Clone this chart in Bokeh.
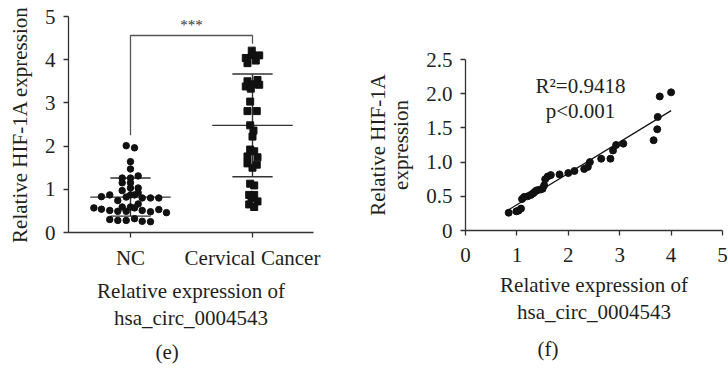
import numpy as np
from bokeh.plotting import figure
from bokeh.layouts import row
from bokeh.models import FixedTicker, Label, Title
from bokeh.embed import file_html
from bokeh.resources import INLINE

# ---------------- data: panel (e) ----------------
categories = ["NC", "Cervical Cancer"]
nc_values = [2.01, 1.96, 1.64, 1.47, 1.26, 1.26, 1.31, 1.15, 1.15, 0.97, 1.03, 1.03,
             0.83, 0.87, 0.74, 0.82, 0.87, 0.87, 0.92, 0.80, 0.80, 0.80,
             0.57, 0.54, 0.51, 0.49, 0.59, 0.49, 0.59, 0.57, 0.66, 0.51, 0.48, 0.53, 0.46,
             0.30, 0.28, 0.28, 0.32, 0.26, 0.25]
nc_jitter = [-0.035, 0.033, 0, 0, -0.068, 0, 0.063, -0.068, 0, -0.068, 0, 0.063,
             -0.238, -0.17, -0.104, -0.035, 0, 0.033, 0.063, 0.096, 0.164, 0.232,
             -0.30, -0.238, -0.17, -0.104, -0.068, -0.035, 0, 0.033, 0.063, 0.096, 0.164, 0.232, 0.295,
             -0.17, -0.104, -0.035, 0.033, 0.096, 0.164]
cc_values = [4.21, 4.04, 4.10, 4.10, 3.92, 3.98, 3.50, 3.53, 3.38, 3.43, 3.42, 3.33,
             3.03, 2.81, 2.81, 2.48, 2.36, 2.22, 1.92, 1.88, 1.76, 1.74, 1.60, 1.57,
             1.50, 1.13, 1.09, 0.87, 0.87, 0.80, 0.72, 0.65, 0.59]
cc_jitter = [-0.006, -0.055, 0, 0.055, -0.041, 0.027, -0.041, 0.041, -0.055, 0, 0.055, -0.014,
             -0.019, -0.041, 0.035, -0.019, 0.008, 0, -0.019, 0.014, -0.041, 0.041, -0.041, 0.035,
             0, -0.019, 0.014, -0.027, 0.014, -0.008, 0.041, -0.027, 0.014]
group_means = [0.82, 2.48]
group_sds = [0.44, 1.19]
bracket_top = 4.56
bracket_leg_ends = [2.25, 4.37]
sig_text = "***"
e_yticks = [0, 1, 2, 3, 4, 5]

# ---------------- data: panel (f) ----------------
circ_x = [0.84, 0.99, 1.03, 1.08, 1.10, 1.14, 1.21, 1.27, 1.31, 1.34, 1.37, 1.40, 1.46, 1.50,
          1.53, 1.55, 1.60, 1.66, 1.83, 2.00, 2.12, 2.31, 2.38, 2.42, 2.64, 2.82, 2.87, 2.93,
          3.07, 3.66, 3.73, 3.74, 3.78, 4.00]
hif_y = [0.26, 0.28, 0.29, 0.32, 0.46, 0.49, 0.50, 0.52, 0.54, 0.56, 0.58, 0.59, 0.60, 0.61,
         0.66, 0.75, 0.79, 0.81, 0.82, 0.84, 0.87, 0.90, 0.93, 1.00, 1.05, 1.05, 1.17, 1.25,
         1.27, 1.32, 1.48, 1.66, 1.96, 2.02]
f_xticks = [0, 1, 2, 3, 4, 5]
f_yticks = [0, 0.5, 1.0, 1.5, 2.0, 2.5]
f_ytick_labels = ["0", "0.5", "1.0", "1.5", "2.0", "2.5"]
stat_lines = ["R\u00b2=0.9418", "p<0.001"]

FONT = "Liberation Serif"
TXT = "#231f20"
AX = "#333333"
PT = "#111111"
FS = "21px"


def style(p):
    p.outline_line_color = None
    p.xgrid.grid_line_color = None
    p.ygrid.grid_line_color = None
    for ax in p.axis:
        ax.axis_line_color = AX
        ax.axis_line_width = 1.3
        ax.major_tick_line_color = AX
        ax.major_tick_line_width = 1.3
        ax.major_tick_in = 0
        ax.major_tick_out = 5
        ax.minor_tick_line_color = None
        ax.major_label_text_font = FONT
        ax.major_label_text_font_size = FS
        ax.major_label_text_color = TXT
        ax.axis_label_text_font = FONT
        ax.axis_label_text_font_size = FS
        ax.axis_label_text_font_style = "normal"
        ax.axis_label_text_color = TXT


def panel_tag(p, text, offset, standoff):
    p.add_layout(Title(text=text, align="left", offset=offset, standoff=standoff,
                       text_font=FONT, text_font_size=FS, text_font_style="normal",
                       text_color=TXT), "below")


can_unalign = "frame_align" in figure.properties()

# ---------------- panel (e) ----------------
cat_pos = [1, 2]
p1 = figure(frame_width=245, frame_height=216, x_range=(0.492, 2.5), y_range=(0, 5),
            min_border_left=68, min_border_right=44, min_border_top=16, min_border_bottom=136,
            output_backend="svg", toolbar_location=None)
if can_unalign:
    p1.frame_align = False
style(p1)
p1.xaxis.ticker = FixedTicker(ticks=cat_pos)
p1.xaxis.major_label_overrides = {c: n for c, n in zip(cat_pos, categories)}
p1.xaxis.axis_label = "Relative expression of\nhsa_circ_0004543"
p1.xaxis.axis_label_text_line_height = 1.15
p1.xaxis.major_label_standoff = 8
p1.xaxis.axis_label_standoff = 6
p1.yaxis.ticker = FixedTicker(ticks=e_yticks)
p1.yaxis.axis_label = "Relative HIF-1A expression"
p1.yaxis.major_label_standoff = 8
p1.yaxis.axis_label_standoff = 10

# mean / sd lines
mean_half = 0.33
sd_half = 0.165
for c, m, s in zip(cat_pos, group_means, group_sds):
    p1.segment(x0=[c - mean_half], y0=[m], x1=[c + mean_half], y1=[m], line_color=AX, line_width=1.4)
    p1.segment(x0=[c - sd_half, c - sd_half], y0=[m + s, m - s], x1=[c + sd_half, c + sd_half],
               y1=[m + s, m - s], line_color=AX, line_width=1.4)
    p1.segment(x0=[c], y0=[m - s], x1=[c], y1=[m + s], line_color=AX, line_width=1.4)

p1.scatter(x=[cat_pos[0] + j for j in nc_jitter], y=nc_values, marker="circle", size=6.5,
           fill_color=PT, line_color=PT)
p1.scatter(x=[cat_pos[1] + j for j in cc_jitter], y=cc_values, marker="square", size=7,
           fill_color=PT, line_color=PT)

# significance bracket
p1.line(x=[cat_pos[0], cat_pos[0], cat_pos[1], cat_pos[1]],
        y=[bracket_leg_ends[0], bracket_top, bracket_top, bracket_leg_ends[1]],
        line_color="#555555", line_width=1.3)
p1.add_layout(Label(x=(cat_pos[0] + cat_pos[1]) / 2, y=bracket_top, y_offset=3, text=sig_text,
                    text_font=FONT, text_font_size="15px", text_color="#333333",
                    text_align="center", text_baseline="bottom"))
panel_tag(p1, "(e)", 87, 8)

# ---------------- panel (f) ----------------
if can_unalign:
    f_top = f_yticks[-1]
    f_frame_h, f_border_top = 171, 59
else:
    f_top = 214 / 68.4
    f_frame_h, f_border_top = 214, 16
p2 = figure(frame_width=257, frame_height=f_frame_h, x_range=(0, 5), y_range=(0, f_top),
            min_border_left=108, min_border_right=6, min_border_top=f_border_top,
            min_border_bottom=368 - f_border_top - f_frame_h,
            output_backend="svg", toolbar_location=None)
if can_unalign:
    p2.frame_align = False
style(p2)
p2.xaxis.ticker = FixedTicker(ticks=f_xticks)
p2.xaxis.axis_label = "Relative expression of\nhsa_circ_0004543"
p2.xaxis.axis_label_text_line_height = 1.15
p2.xaxis.major_label_standoff = 12
p2.xaxis.axis_label_standoff = 8
p2.yaxis.ticker = FixedTicker(ticks=f_yticks)
p2.yaxis.bounds = (f_yticks[0], f_yticks[-1])
p2.yaxis.major_label_overrides = {t: l for t, l in zip(f_yticks, f_ytick_labels)}
p2.yaxis.axis_label = "Relative HIF-1A\nexpression"
p2.yaxis.axis_label_text_line_height = 0.95
p2.yaxis.major_label_standoff = 8
p2.yaxis.axis_label_standoff = 10

slope, intercept = np.polyfit(circ_x, hif_y, 1)
fx = np.array([min(circ_x), max(circ_x)])
p2.line(x=fx, y=slope * fx + intercept, line_color=PT, line_width=1.2)
p2.scatter(x=circ_x, y=hif_y, marker="circle", size=7, fill_color=PT, line_color=PT)

p2.add_layout(Label(x=115, y=145, x_units="screen", y_units="screen", text=stat_lines[0],
                    text_font=FONT, text_font_size=FS, text_color=TXT,
                    text_align="center", text_baseline="middle"))
p2.add_layout(Label(x=115, y=120, x_units="screen", y_units="screen", text=stat_lines[1],
                    text_font=FONT, text_font_size=FS, text_color=TXT,
                    text_align="center", text_baseline="middle"))
panel_tag(p2, "(f)", 72, 14)

layout = row(p1, p2, spacing=0)
open("out.html", "w").write(file_html(layout, INLINE))
